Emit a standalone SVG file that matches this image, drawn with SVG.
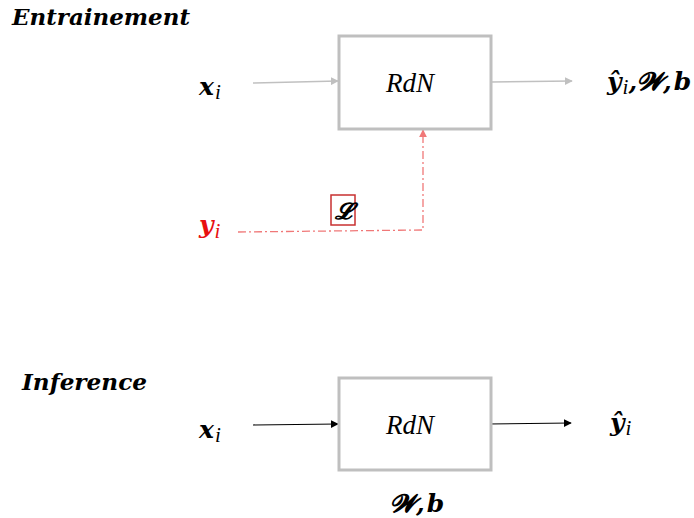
<svg xmlns="http://www.w3.org/2000/svg" width="694" height="518" viewBox="0 0 694 518">
<defs>
<style>
.t{font-family:"DejaVu Serif","Liberation Serif",serif;font-style:italic;font-weight:bold;fill:#000}
.s{font-family:"Liberation Serif","DejaVu Serif",serif;font-style:italic;font-weight:normal}
.m{font-family:"Liberation Serif","DejaVu Serif",serif;font-style:italic;fill:#000}
.box{fill:#fff;stroke:#bfbfbf;stroke-width:3}
.g{stroke:#c0c0c0;stroke-width:1.5;fill:none}
.k{stroke:#000;stroke-width:1.2;fill:none}
</style>
<marker id="ag" viewBox="0 0 10 10" refX="9" refY="5" markerWidth="8" markerHeight="8" orient="auto" markerUnits="userSpaceOnUse"><path d="M0,0L10,5L0,10z" fill="#c0c0c0"/></marker>
<marker id="ak" viewBox="0 0 10 10" refX="9" refY="5" markerWidth="8" markerHeight="8" orient="auto" markerUnits="userSpaceOnUse"><path d="M0,0L10,5L0,10z" fill="#000"/></marker>
<marker id="ar" viewBox="0 0 10 10" refX="9" refY="5" markerWidth="8" markerHeight="8" orient="auto" markerUnits="userSpaceOnUse"><path d="M0,0L10,5L0,10z" fill="#f07878"/></marker>
</defs>
<rect width="694" height="518" fill="#fff"/>
<text class="t" x="12" y="25" font-size="22" textLength="178" lengthAdjust="spacingAndGlyphs">Entrainement</text>
<text class="t" x="22" y="390" font-size="22" textLength="125" lengthAdjust="spacingAndGlyphs">Inference</text>
<g id="connectors">
<path class="g" d="M253,83 L338,81" marker-end="url(#ag)"/>
<path class="g" d="M491,82 L572,81" marker-end="url(#ag)"/>
<path d="M238,232 L423,230 L423,130" fill="none" stroke="#f07878" stroke-width="1.3" stroke-dasharray="8,3,2,3" marker-end="url(#ar)"/>
<path class="k" d="M253,425 L338,424" marker-end="url(#ak)"/>
<path class="k" d="M488,424 L571,423" marker-end="url(#ak)"/>
</g>
<g id="rdn1"><rect class="box" x="339" y="36" width="152" height="93"/><text class="m" x="410" y="92" font-size="27" text-anchor="middle">RdN</text></g>
<g id="rdn2"><rect class="box" x="339" y="378" width="152" height="92"/><text class="m" x="410" y="434" font-size="27" text-anchor="middle">RdN</text></g>
<g id="x1"><text class="t" x="199" y="95" font-size="25">x<tspan class="s" font-size="21" dx="1" dy="4">i</tspan></text></g>
<g id="y1"><text class="t" x="199" y="233" font-size="25" style="fill:#e81010">y<tspan class="s" font-size="21" dx="1" dy="5">i</tspan></text></g>
<g id="out1"><text class="t" x="607" y="90" font-size="25">ŷ<tspan class="s" font-size="21" dx="1" dy="4">i</tspan><tspan dy="-4">,𝓦,<tspan dx="2">b</tspan></tspan></text></g>
<g id="loss"><rect x="331" y="195" width="24" height="30" fill="#fff" stroke="#c83030" stroke-width="1.5"/><text class="t" x="343" y="219" font-size="23" text-anchor="middle">𝓛</text></g>
<g id="x2"><text class="t" x="199" y="438" font-size="25">x<tspan class="s" font-size="21" dx="1" dy="4">i</tspan></text></g>
<g id="out2"><text class="t" x="610" y="431" font-size="25">ŷ<tspan class="s" font-size="21" dx="1" dy="4">i</tspan></text></g>
<g id="wb"><text class="t" x="390" y="512" font-size="25">𝓦,<tspan dx="2">b</tspan></text></g>
</svg>
